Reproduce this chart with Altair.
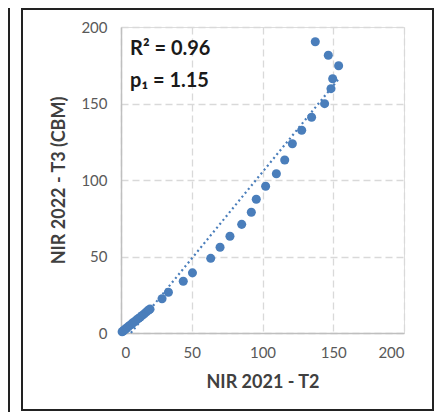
import altair as alt
import pandas as pd

# Scatter data
x_vals = [0.8, 1.5, 2.3, 3.2, 4.0, 5.0, 6.0, 7.0, 8.2, 9.5, 10.8, 12.2, 13.6, 15.0, 16.4, 18.0, 19.5,
          20.5, 29.0, 33.5, 44.0, 50.5, 63.4, 70.0, 77.0, 85.3, 92.1, 95.6, 102.2, 109.8, 115.7,
          121.1, 127.7, 134.7, 143.9, 148.4, 149.6, 153.8, 146.5, 137.3]
y_vals = [0.8, 1.3, 2.0, 2.6, 3.3, 4.0, 4.8, 5.5, 6.5, 7.4, 8.4, 9.4, 10.4, 11.5, 12.5, 13.8, 15.0,
          15.6, 22.4, 26.6, 33.8, 39.3, 48.8, 56.0, 63.2, 71.0, 78.9, 87.4, 95.9, 104.1, 113.1,
          123.7, 132.5, 141.0, 149.9, 159.7, 166.2, 174.7, 181.5, 190.4]

# Linear trendline endpoints
trend_x = [7.0, 153.8]
trend_y = [0.1, 166.0]

ticks = [0, 50, 100, 150, 200]
annotations = ["R² = 0.96", "p₁ = 1.15"]
ann_x = [6.4, 6.4]
ann_y = [181.5, 160.5]

blue = "#4a7ebb"
font = "Lato"

pts = pd.DataFrame({"x": x_vals, "y": y_vals})
trend = pd.DataFrame({"x": trend_x, "y": trend_y})
ann = pd.DataFrame({"t": annotations, "x": ann_x, "y": ann_y})

xs = alt.Scale(domain=[0, 200], nice=False)
ys = alt.Scale(domain=[0, 200], nice=False)

xax = alt.Axis(values=ticks, title="NIR 2021 - T2", grid=True, gridDash=[7, 4],
               gridColor="#d9d9d9", gridWidth=1.3, domainColor="#bfbfbf", domainWidth=1.5,
               ticks=False, labelPadding=12, labelFontSize=15, labelFont=font,
               labelColor="#595959", titleFontSize=18, titleFont=font, titleFontWeight="bold",
               titleColor="#404040", titlePadding=13)
yax = alt.Axis(values=ticks, title="NIR 2022 - T3 (CBM)", grid=True, gridDash=[7, 4],
               gridColor="#d9d9d9", gridWidth=1.3, domainColor="#bfbfbf", domainWidth=1.5,
               ticks=False, labelPadding=14, labelFontSize=15, labelFont=font,
               labelColor="#595959", titleFontSize=18, titleFont=font, titleFontWeight="bold",
               titleColor="#404040", titlePadding=12)

X = alt.X("x:Q", scale=xs, axis=xax)
Y = alt.Y("y:Q", scale=ys, axis=yax)

base_pts = alt.Chart(pts).mark_circle(size=82, opacity=1, color=blue).encode(x=X, y=Y)

line = alt.Chart(trend).mark_line(color=blue, strokeDash=[2, 3], strokeWidth=2.2).encode(x=X, y=Y)

text = alt.Chart(ann).mark_text(align="left", baseline="alphabetic", fontSize=20,
                                fontWeight="bold", font=font, color="#1a1a1a").encode(
    text="t:N", x=X, y=Y,
)

frame_df = pd.DataFrame({"a": [1]})
frame = alt.Chart(frame_df).mark_rect(filled=False, stroke="#222222", strokeWidth=2).encode(
    x=alt.value(-99), x2=alt.value(312), y=alt.value(-18), y2=alt.value(383),
)
left_line = alt.Chart(frame_df).mark_rule(color="#222222", strokeWidth=2).encode(
    x=alt.value(-112), y=alt.value(-19), y2=alt.value(385),
)

chart = alt.layer(base_pts, line, text, frame, left_line).properties(
    width=283, height=306,
    autosize=alt.AutoSizeParams(type="none"),
    padding={"left": 113, "top": 19, "right": 30, "bottom": 79},
).configure_view(stroke=None).configure(background="white")

chart.save("out.html", embed_options={"renderer": "svg", "actions": False})
